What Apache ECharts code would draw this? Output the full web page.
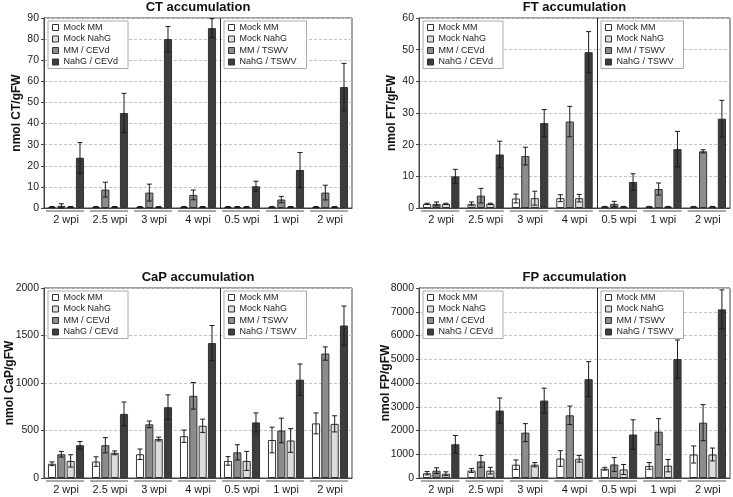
<!DOCTYPE html>
<html><head><meta charset="utf-8">
<script src="https://cdn.jsdelivr.net/npm/echarts@6/dist/echarts.min.js"></script>
<style>html,body{margin:0;padding:0;background:#fff}#c{width:733px;height:497px}</style>
</head><body><div id="c"></div>
<script>
// ---------- DATA ----------
const categories = ['2 wpi', '2.5 wpi', '3 wpi', '4 wpi', '0.5 wpi', '1 wpi', '2 wpi'];
const nCevd = 4; // first 4 categories: CEVd; last 3: TSWV

const titles = ['CT accumulation', 'FT accumulation', 'CaP accumulation', 'FP accumulation'];
const yNames = ['nmol CT/gFW', 'nmol FT/gFW', 'nmol CaP/gFW', 'nmol FP/gFW'];
const yMax = [90, 60, 2000, 8000];
const yInterval = [10, 10, 500, 1000];

const legendLeft = ['Mock MM', 'Mock NahG', 'MM / CEVd', 'NahG / CEVd'];
const legendRight = ['Mock MM', 'Mock NahG', 'MM / TSWV', 'NahG / TSWV'];

// CT
const ctMockMM = [0.5, 0.5, 0.5, 0.5, 0.5, 0.5, 0.5];
const ctMockMMErr = [0.2, 0.2, 0.2, 0.2, 0.2, 0.2, 0.2];
const ctMMInf = [1.0, 8.7, 7.3, 6.2, 0.5, 4.0, 7.3];
const ctMMInfErr = [1.0, 3.5, 4.0, 2.3, 0.2, 1.5, 3.5];
const ctMockNahG = [0.5, 0.5, 0.5, 0.5, 0.5, 0.5, 0.5];
const ctMockNahGErr = [0.2, 0.2, 0.2, 0.2, 0.2, 0.2, 0.2];
const ctNahGInf = [23.8, 45.0, 80.0, 85.2, 10.3, 18.0, 57.3];
const ctNahGInfErr = [7.2, 9.3, 6.0, 4.5, 2.4, 8.3, 11.2];

// FT
const ftMockMM = [1.3, 1.3, 3.0, 3.1, 0.4, 0.4, 0.4];
const ftMockMMErr = [0.2, 0.6, 1.4, 1.1, 0.1, 0.1, 0.1];
const ftMMInf = [1.3, 3.9, 16.4, 27.3, 1.3, 6.0, 17.9];
const ftMMInfErr = [0.6, 2.3, 2.8, 4.8, 0.8, 1.9, 0.5];
const ftMockNahG = [1.3, 1.3, 3.1, 3.1, 0.4, 0.4, 0.4];
const ftMockNahGErr = [0.2, 0.2, 2.2, 1.2, 0.1, 0.1, 0.1];
const ftNahGInf = [10.0, 16.9, 26.8, 49.2, 8.2, 18.6, 28.2];
const ftNahGInfErr = [2.2, 4.2, 4.3, 6.5, 2.6, 5.6, 5.8];

// CaP
const capMockMM = [150, 173, 250, 440, 180, 400, 575];
const capMockMMErr = [20, 50, 55, 65, 45, 135, 110];
const capMMInf = [250, 345, 565, 865, 270, 500, 1310];
const capMMInfErr = [30, 80, 35, 140, 80, 130, 70];
const capMockNahG = [180, 265, 410, 550, 180, 395, 570];
const capMockNahGErr = [65, 20, 20, 70, 100, 125, 85];
const capNahGInf = [345, 675, 745, 1420, 585, 1035, 1605];
const capNahGInfErr = [40, 125, 130, 185, 100, 165, 205];

// FP
const fpMockMM = [200, 315, 560, 820, 390, 510, 990];
const fpMockMMErr = [70, 80, 200, 330, 60, 140, 360];
const fpMMInf = [310, 700, 1910, 2640, 570, 1950, 2330];
const fpMMInfErr = [120, 250, 380, 390, 290, 550, 760];
const fpMockNahG = [180, 310, 560, 810, 360, 520, 990];
const fpMockNahGErr = [80, 140, 90, 140, 210, 260, 270];
const fpNahGInf = [1420, 2840, 3260, 4160, 1830, 5010, 7100];
const fpNahGInfErr = [370, 530, 520, 740, 620, 800, 820];

const panels = [
  {mm: ctMockMM, mmE: ctMockMMErr, mi: ctMMInf, miE: ctMMInfErr, nh: ctMockNahG, nhE: ctMockNahGErr, ni: ctNahGInf, niE: ctNahGInfErr},
  {mm: ftMockMM, mmE: ftMockMMErr, mi: ftMMInf, miE: ftMMInfErr, nh: ftMockNahG, nhE: ftMockNahGErr, ni: ftNahGInf, niE: ftNahGInfErr},
  {mm: capMockMM, mmE: capMockMMErr, mi: capMMInf, miE: capMMInfErr, nh: capMockNahG, nhE: capMockNahGErr, ni: capNahGInf, niE: capNahGInfErr},
  {mm: fpMockMM, mmE: fpMockMMErr, mi: fpMMInf, miE: fpMMInfErr, nh: fpMockNahG, nhE: fpMockNahGErr, ni: fpNahGInf, niE: fpNahGInfErr}
];

// ---------- LAYOUT / STYLE ----------
const FONT = 'Arial, "Liberation Sans", sans-serif';
const gridsPos = [
  {left: 44, top: 18, width: 308, height: 190},
  {left: 419, top: 18, width: 311, height: 190},
  {left: 44, top: 288, width: 308, height: 190},
  {left: 419, top: 288, width: 311, height: 190}
];
const nameGaps = [21, 21, 28, 27];
const CAT_GAP = 0.18, BAR_GAP = 0.15;
const COL = {mm: '#ffffff', mi: '#8c8c8c', nh: '#dcdcdc', ni: '#3d3d3d'};
const BORDER = '#333';

function slotX(api, cat) {
  const c = api.coord([cat, 0]);
  const band = api.size([1, 0])[0];
  const total = band * (1 - CAT_GAP);
  const w = total / (4 + 3 * BAR_GAP);
  return {cx: c[0], band, total, w, y0: c[1]};
}

function errRender(params, api) {
  const cat = api.value(0), slot = api.value(1), v = api.value(2), e = api.value(3);
  const s = slotX(api, cat);
  const x = s.cx - s.total / 2 + slot * s.w * (1 + BAR_GAP) + s.w / 2;
  const yHi = api.coord([cat, v + e])[1];
  const yLo = api.coord([cat, Math.max(v - e, 0)])[1];
  const cap = 2.5;
  const st = {stroke: '#1a1a1a', lineWidth: 1};
  return {type: 'group', children: [
    {type: 'line', shape: {x1: x, y1: yHi, x2: x, y2: yLo}, style: st},
    {type: 'line', shape: {x1: x - cap, y1: yHi, x2: x + cap, y2: yHi}, style: st},
    {type: 'line', shape: {x1: x - cap, y1: yLo, x2: x + cap, y2: yLo}, style: st}
  ]};
}

function decoRender(gi) {
  return function (params, api) {
    const cat = api.value(0);
    const s = slotX(api, cat);
    const children = [{
      type: 'line',
      shape: {x1: s.cx - s.total / 2 - 2, y1: s.y0 + 3, x2: s.cx + s.total / 2, y2: s.y0 + 3},
      style: {stroke: '#555', lineWidth: 1}
    }];
    if (cat === nCevd - 1) {
      const xd = Math.round(s.cx + s.band / 2) + 0.5;
      const yTop = api.coord([cat, yMax[gi]])[1];
      children.push({type: 'line', shape: {x1: xd, y1: yTop, x2: xd, y2: s.y0},
        style: {stroke: '#222', lineWidth: 1}});
    }
    return {type: 'group', children};
  };
}

const option = {
  animation: false,
  backgroundColor: '#fff',
  textStyle: {fontFamily: FONT},
  grid: [], xAxis: [], yAxis: [], legend: [], series: [], graphic: []
};

panels.forEach((p, gi) => {
  const g = gridsPos[gi];
  option.grid.push({left: g.left, top: g.top, width: g.width, height: g.height,
    show: true, borderColor: '#444', borderWidth: 1, backgroundColor: 'transparent',
    containLabel: false, outerBoundsMode: 'none'});
  option.xAxis.push({type: 'category', gridIndex: gi, data: categories,
    axisTick: {show: false}, axisLine: {show: true, lineStyle: {color: '#444'}},
    axisLabel: {interval: 0, fontSize: 11, color: '#1a1a1a', margin: 6, fontFamily: FONT},
    splitLine: {show: false}});
  option.yAxis.push({type: 'value', gridIndex: gi, min: 0, max: yMax[gi], interval: yInterval[gi],
    name: yNames[gi], nameLocation: 'middle', nameGap: nameGaps[gi], nameMoveOverlap: false,
    nameTextStyle: {fontSize: 12, fontWeight: 'bold', color: '#111', fontFamily: FONT},
    axisLine: {show: true, lineStyle: {color: '#444'}},
    axisTick: {show: true, length: 3, lineStyle: {color: '#444'}},
    axisLabel: {fontSize: 10.5, color: '#1a1a1a', margin: 5, fontFamily: FONT,
      formatter: (v) => String(v)},
    splitLine: {show: true, lineStyle: {color: '#c4c4c4', type: [3, 2], width: 1}}});

  const band = g.width / categories.length;
  const legBase = {orient: 'vertical', top: g.top + 3, itemWidth: 6, itemHeight: 6, itemGap: 2.5,
    padding: [2, 10, 2, 4], borderColor: '#aaa', borderWidth: 1, backgroundColor: '#fff',
    icon: 'rect', selectedMode: false, itemStyle: {borderColor: '#333', borderWidth: 1},
    textStyle: {fontSize: 9, color: '#222', fontFamily: FONT, lineHeight: 9}, z: 5};
  option.legend.push(Object.assign({}, legBase, {left: g.left + 4, data: legendLeft}));
  option.legend.push(Object.assign({}, legBase, {left: Math.round(g.left + nCevd * band + 4), data: legendRight}));

  const blank = (arr, first) => arr.map((v, i) => (first ? (i < nCevd ? v : '-') : (i < nCevd ? '-' : v)));
  const bar = (name, data, color, stack) => ({
    type: 'bar', name, data, xAxisIndex: gi, yAxisIndex: gi, stack,
    barCategoryGap: (CAT_GAP * 100) + '%', barGap: (BAR_GAP * 100) + '%',
    itemStyle: {color, borderColor: BORDER, borderWidth: 1}, z: 2
  });
  option.series.push(bar('Mock MM', p.mm, COL.mm));
  option.series.push(bar('MM / CEVd', blank(p.mi, true), COL.mi, 'mi' + gi));
  option.series.push(bar('MM / TSWV', blank(p.mi, false), COL.mi, 'mi' + gi));
  option.series.push(bar('Mock NahG', p.nh, COL.nh));
  option.series.push(bar('NahG / CEVd', blank(p.ni, true), COL.ni, 'ni' + gi));
  option.series.push(bar('NahG / TSWV', blank(p.ni, false), COL.ni, 'ni' + gi));

  const errData = [];
  [[p.mm, p.mmE], [p.mi, p.miE], [p.nh, p.nhE], [p.ni, p.niE]].forEach((pair, slot) => {
    pair[0].forEach((v, ci) => errData.push([ci, slot, v, pair[1][ci]]));
  });
  option.series.push({type: 'custom', name: 'err' + gi, xAxisIndex: gi, yAxisIndex: gi,
    data: errData, encode: {x: 0, y: 2}, renderItem: errRender, z: 4, clip: false, silent: true});
  option.series.push({type: 'custom', name: 'deco' + gi, xAxisIndex: gi, yAxisIndex: gi,
    data: categories.map((c, i) => [i, 0]), encode: {x: 0, y: 1}, renderItem: decoRender(gi),
    z: 4, clip: false, silent: true});

  option.graphic.push({type: 'text', x: g.left + g.width / 2, y: g.top - 11,
    style: {text: titles[gi], fontSize: 13, fontWeight: 'bold', fontFamily: FONT, fill: '#111',
      align: 'center', verticalAlign: 'middle'}});
});

const chart = echarts.init(document.getElementById('c'), null, {renderer: 'canvas'});
chart.setOption(option);
</script>
</body></html>
